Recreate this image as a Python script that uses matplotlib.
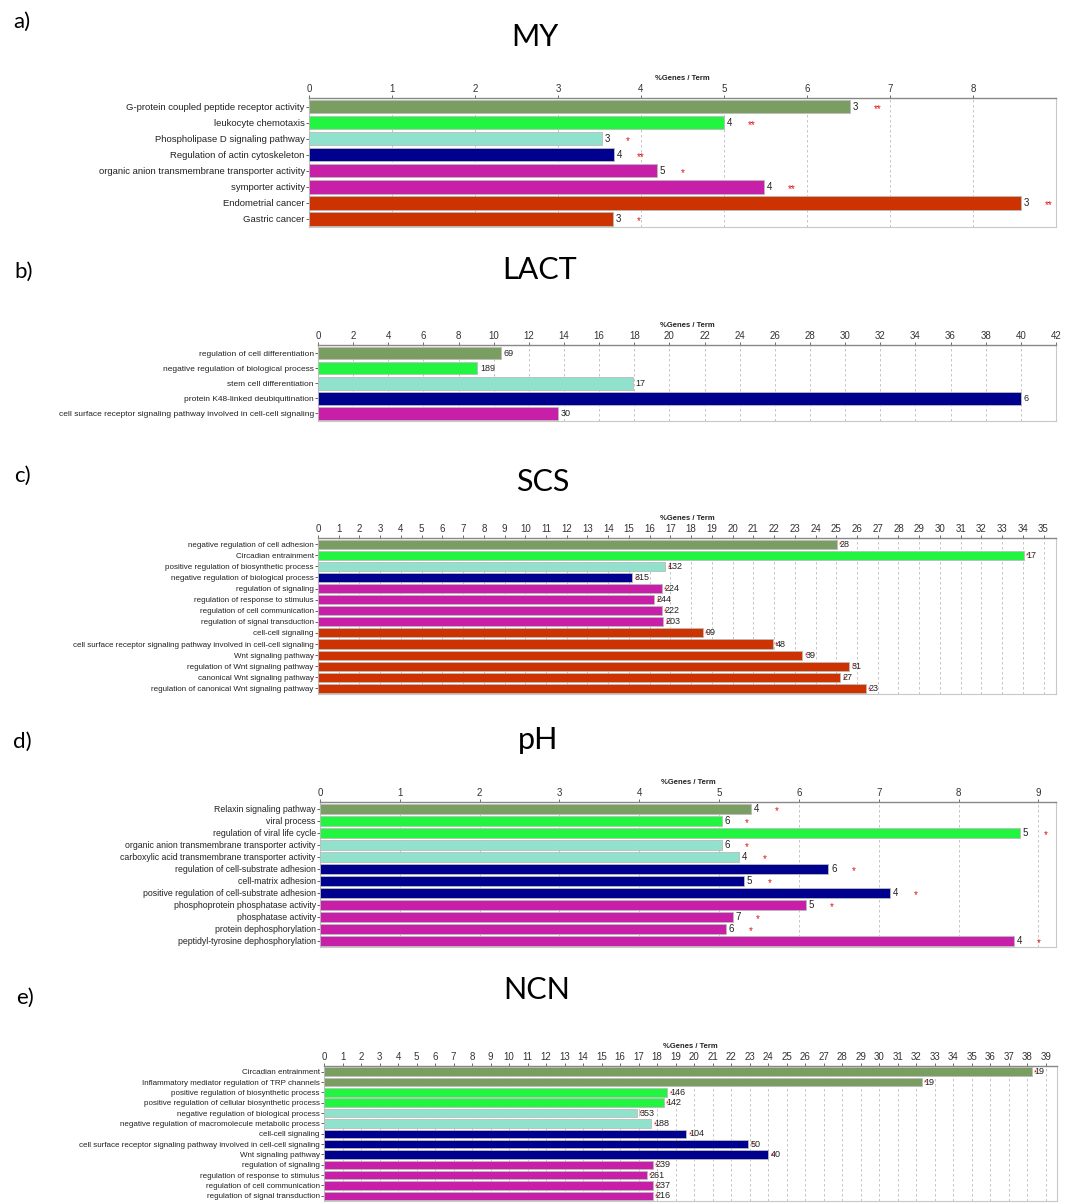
import matplotlib.pyplot as plt

plt.rcParams['font.family'] = ['Liberation Sans', 'DejaVu Sans']

# palette used by the enrichment tool for term groups
PALETTE = ["#7a9e62", "#22f53f", "#90e2cc", "#00008f", "#c81fa9", "#cc3300"]

# a) MY
my_terms = ["G-protein coupled peptide receptor activity", "leukocyte chemotaxis",
            "Phospholipase D signaling pathway", "Regulation of actin cytoskeleton",
            "organic anion transmembrane transporter activity", "symporter activity",
            "Endometrial cancer", "Gastric cancer"]
my_values = [6.52, 5.0, 3.53, 3.67, 4.19, 5.48, 8.58, 3.66]
my_counts = [3, 4, 3, 4, 5, 4, 3, 3]
my_stars = ["**", "**", "*", "**", "*", "**", "**", "*"]
my_groups = [0, 1, 2, 3, 4, 4, 5, 5]

# b) LACT
lact_terms = ["regulation of cell differentiation", "negative regulation of biological process",
              "stem cell differentiation", "protein K48-linked deubiquitination",
              "cell surface receptor signaling pathway involved in cell-cell signaling"]
lact_values = [10.4, 9.07, 17.9, 40.0, 13.66]
lact_counts = [69, 189, 17, 6, 30]
lact_groups = [0, 1, 2, 3, 4]

# c) SCS
scs_terms = ["negative regulation of cell adhesion", "Circadian entrainment",
             "positive regulation of biosynthetic process", "negative regulation of biological process",
             "regulation of signaling", "regulation of response to stimulus",
             "regulation of cell communication", "regulation of signal transduction",
             "cell-cell signaling",
             "cell surface receptor signaling pathway involved in cell-cell signaling",
             "Wnt signaling pathway", "regulation of Wnt signaling pathway",
             "canonical Wnt signaling pathway", "regulation of canonical Wnt signaling pathway"]
scs_values = [25.02, 34.04, 16.74, 15.15, 16.57, 16.21, 16.57, 16.64,
              18.56, 21.94, 23.37, 25.62, 25.19, 26.42]
scs_counts = [28, 17, 132, 315, 224, 244, 222, 203, 99, 48, 39, 31, 27, 23]
scs_groups = [0, 1, 2, 3, 4, 4, 4, 4, 5, 5, 5, 5, 5, 5]

# d) pH
ph_terms = ["Relaxin signaling pathway", "viral process", "regulation of viral life cycle",
            "organic anion transmembrane transporter activity",
            "carboxylic acid transmembrane transporter activity",
            "regulation of cell-substrate adhesion", "cell-matrix adhesion",
            "positive regulation of cell-substrate adhesion",
            "phosphoprotein phosphatase activity", "phosphatase activity",
            "protein dephosphorylation", "peptidyl-tyrosine dephosphorylation"]
ph_values = [5.40, 5.03, 8.77, 5.03, 5.25, 6.37, 5.31, 7.14, 6.09, 5.17, 5.08, 8.69]
ph_counts = [4, 6, 5, 6, 4, 6, 5, 4, 5, 7, 6, 4]
ph_stars = ["*"] * 12
ph_groups = [0, 1, 1, 2, 2, 3, 3, 3, 4, 4, 4, 4]

# e) NCN
ncn_terms = ["Circadian entrainment", "Inflammatory mediator regulation of TRP channels",
             "positive regulation of biosynthetic process",
             "positive regulation of cellular biosynthetic process",
             "negative regulation of biological process",
             "negative regulation of macromolecule metabolic process",
             "cell-cell signaling",
             "cell surface receptor signaling pathway involved in cell-cell signaling",
             "Wnt signaling pathway", "regulation of signaling",
             "regulation of response to stimulus", "regulation of cell communication",
             "regulation of signal transduction"]
ncn_values = [38.23, 32.3, 18.54, 18.35, 16.9, 17.69, 19.58, 22.91, 23.99,
              17.76, 17.43, 17.76, 17.76]
ncn_counts = [19, 19, 146, 142, 353, 188, 104, 50, 40, 239, 261, 237, 216]
ncn_groups = [0, 0, 1, 1, 2, 2, 3, 3, 3, 4, 4, 4, 4]

W, H = 1072, 1203


def px_axes(fig, left, right, top, bottom):
    return fig.add_axes([left / W, 1 - bottom / H, (right - left) / W, (bottom - top) / H])


def draw_panel(ax, terms, values, counts, groups, xmax, ticks, stars=None,
               label_fs=6.8, count_fs=7, red_mark=False):
    n = len(terms)
    y = list(range(n))
    colors = [PALETTE[g] for g in groups]
    ax.barh(y, values, height=0.82, color=colors, edgecolor="#bbbbbb", linewidth=0.6, zorder=3)
    ax.set_xlim(0, xmax)
    ax.set_ylim(n - 0.5, -0.55)
    ax.set_xticks(ticks)
    ax.xaxis.tick_top()
    ax.tick_params(axis="x", labelsize=7, colors="#333333", length=2, pad=1, width=0.5)
    ax.tick_params(axis="y", labelsize=label_fs, colors="#222222", length=2, pad=1, width=0.5)
    ax.set_yticks(y)
    ax.set_yticklabels(terms)
    ax.set_xlabel("%Genes / Term", fontsize=5.5, fontweight="bold", color="#222222", labelpad=3)
    ax.xaxis.set_label_position("top")
    ax.grid(axis="x", color="#bbbbbb", linestyle=(0, (3, 3)), linewidth=0.6, zorder=0)
    for side in ["left", "right", "bottom"]:
        ax.spines[side].set_color("#c8c8c8")
        ax.spines[side].set_linewidth(0.8)
    ax.spines["top"].set_color("#888888")
    ax.spines["top"].set_linewidth(1.0)
    for i, (v, c) in enumerate(zip(values, counts)):
        ax.annotate(str(c), (v, i), xytext=(2, 0), textcoords="offset points",
                    va="center", ha="left", fontsize=count_fs, color="#222222", zorder=4)
        if red_mark:
            # red marker overlapping the first digit, as in the source images
            ax.annotate("*", (v, i), xytext=(1.8, -0.8), textcoords="offset points",
                        va="center", ha="left", fontsize=5.5, color="#dd0000", zorder=5)
        if stars:
            ax.annotate(stars[i], (v, i), xytext=(17, -1.5), textcoords="offset points",
                        va="center", ha="left", fontsize=7, color="#dd1111", zorder=4)


fig = plt.figure(figsize=(W / 100, H / 100), dpi=100)

title_font = dict(family=["Lato", "DejaVu Sans"])

fig.text(22 / W, 1 - 22 / H, "a)", fontsize=16, va="center", ha="center", **title_font)
fig.text(535 / W, 1 - 37 / H, "MY", fontsize=22, va="center", ha="center", **title_font)
ax = px_axes(fig, 309, 1056, 98, 227)
draw_panel(ax, my_terms, my_values, my_counts, my_groups, 9.0, range(0, 9), stars=my_stars)

fig.text(24 / W, 1 - 272 / H, "b)", fontsize=16, va="center", ha="center", **title_font)
fig.text(540 / W, 1 - 270 / H, "LACT", fontsize=22, va="center", ha="center", **title_font)
ax = px_axes(fig, 318, 1056, 345, 421)
draw_panel(ax, lact_terms, lact_values, lact_counts, lact_groups, 42, range(0, 43, 2),
           label_fs=6.0, count_fs=6.5)

fig.text(22 / W, 1 - 476 / H, "c)", fontsize=16, va="center", ha="center", **title_font)
fig.text(543 / W, 1 - 482 / H, "SCS", fontsize=22, va="center", ha="center", **title_font)
ax = px_axes(fig, 318, 1056, 538, 694)
draw_panel(ax, scs_terms, scs_values, scs_counts, scs_groups, 35.6, range(0, 36),
           label_fs=5.8, count_fs=6.5, red_mark=True)

fig.text(22 / W, 1 - 742 / H, "d)", fontsize=16, va="center", ha="center", **title_font)
fig.text(538 / W, 1 - 740 / H, "pH", fontsize=22, va="center", ha="center", **title_font)
ax = px_axes(fig, 320, 1056, 802, 947)
draw_panel(ax, ph_terms, ph_values, ph_counts, ph_groups, 9.22, range(0, 10), stars=ph_stars,
           label_fs=6.3, count_fs=7)

fig.text(25 / W, 1 - 998 / H, "e)", fontsize=16, va="center", ha="center", **title_font)
fig.text(537 / W, 1 - 990 / H, "NCN", fontsize=22, va="center", ha="center", **title_font)
ax = px_axes(fig, 324, 1057, 1066, 1201)
draw_panel(ax, ncn_terms, ncn_values, ncn_counts, ncn_groups, 39.6, range(0, 40),
           label_fs=5.8, count_fs=6.5, red_mark=True)

fig.savefig("out.png", dpi=100)
